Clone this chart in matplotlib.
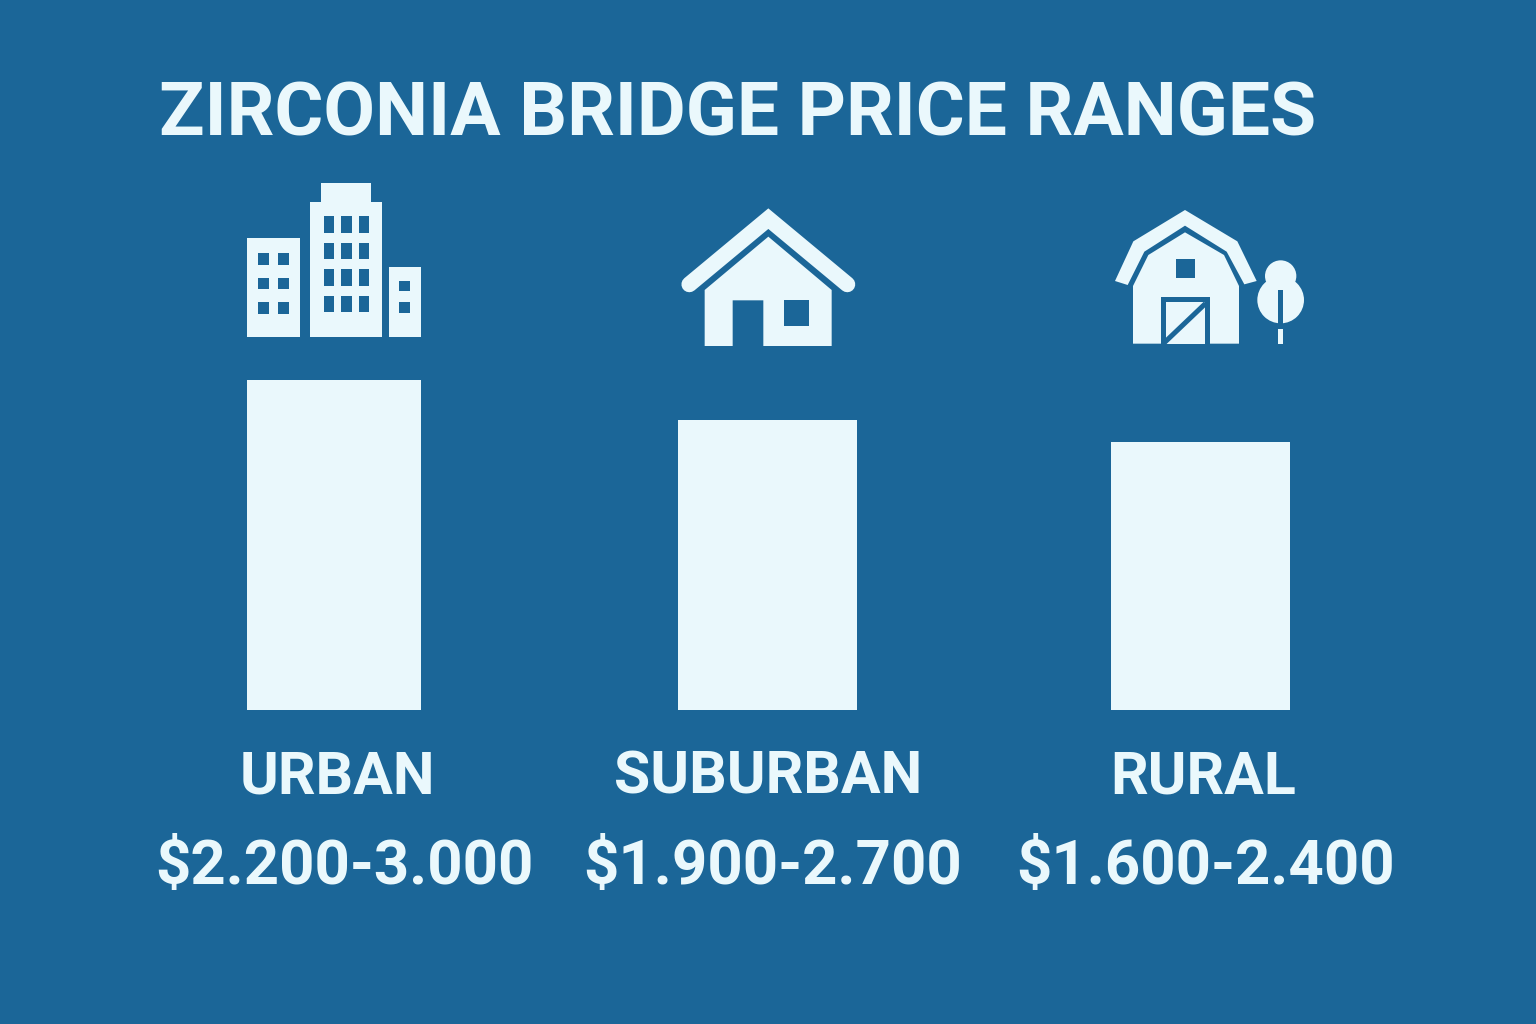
import matplotlib
matplotlib.use("Agg")
import matplotlib.pyplot as plt
from matplotlib.patches import Polygon, Rectangle, Circle
from matplotlib.lines import Line2D

categories = ["URBAN", "SUBURBAN", "RURAL"]
price_ranges = ["$2.200-3.000", "$1.900-2.700", "$1.600-2.400"]
bar_heights = [3000, 2636, 2436]
title = "ZIRCONIA BRIDGE PRICE RANGES"

BG = "#1B6698"
FG = "#EAF8FC"
W, H = 1536, 1024
plt.rcParams["font.family"] = ["Roboto", "Liberation Sans", "DejaVu Sans"]

fig = plt.figure(figsize=(W / 100, H / 100), dpi=100, facecolor=BG)

# Bars: value axis spans the pixel rows 380..710
bar_ax = fig.add_axes([0, (H - 710) / H, 1, 330 / H], facecolor="none")
bar_left = [247, 678, 1111]
bar_width = [174, 179, 179]
bar_ax.bar(bar_left, bar_heights, width=bar_width, align="edge", color=FG, linewidth=0)
bar_ax.set_xlim(0, W)
bar_ax.set_ylim(0, 3000)
bar_ax.axis("off")

# Overlay in pixel coordinates for text and icons
ax = fig.add_axes([0, 0, 1, 1], facecolor="none")
ax.set_xlim(0, W)
ax.set_ylim(H, 0)
ax.axis("off")


def rect(x0, y0, x1, y1, color):
    ax.add_patch(Rectangle((x0, y0), x1 - x0, y1 - y0, color=color, lw=0))


def poly(points, color, ox, oy):
    ax.add_patch(Polygon([(ox + x / 3, oy + y / 3) for x, y in points], closed=True, color=color, lw=0))


def zrect(x0, y0, x1, y1, color, ox, oy):
    rect(ox + x0 / 3, oy + y0 / 3, ox + x1 / 3, oy + y1 / 3, color)


# City icon
ox, oy = 230, 170
zrect(50, 205, 210, 502, FG, ox, oy)
zrect(240, 95, 455, 502, FG, ox, oy)
zrect(273, 38, 423, 100, FG, ox, oy)
zrect(478, 290, 572, 500, FG, ox, oy)
for y0, y1 in [(250, 285), (324, 358), (397, 432)]:
    for x0, x1 in [(85, 116), (145, 177)]:
        zrect(x0, y0, x1, y1, BG, ox, oy)
for y0, y1 in [(138, 188), (218, 268), (298, 347), (377, 426)]:
    for x0, x1 in [(282, 312), (334, 365), (388, 418)]:
        zrect(x0, y0, x1, y1, BG, ox, oy)
for y0, y1 in [(332, 363), (397, 428)]:
    zrect(508, y0, 540, y1, BG, ox, oy)

# House icon
ox, oy = 670, 195
ax.add_line(Line2D([ox + 58 / 3, ox + 295 / 3, ox + 532 / 3],
                   [oy + 268 / 3, oy + 71 / 3, oy + 268 / 3],
                   color=FG, lw=11.4, solid_capstyle="round", solid_joinstyle="miter"))
poly([(295, 125), (485, 285), (485, 453), (280, 453), (280, 316), (188, 316),
      (188, 453), (104, 453), (104, 285)], FG, ox, oy)
zrect(341, 316, 417, 394, BG, ox, oy)

# Barn icon
ox, oy = 1105, 200
poly([(240, 30), (397, 124), (455, 243), (418, 253), (365, 155), (240, 77),
      (118, 155), (68, 255), (30, 243), (85, 124)], FG, ox, oy)
poly([(240, 97), (357, 165), (402, 258), (402, 431), (84, 431), (84, 258), (130, 165)], FG, ox, oy)
zrect(212, 178, 270, 235, BG, ox, oy)
zrect(168, 291, 314, 431, BG, ox, oy)
zrect(182, 306, 300, 431, FG, ox, oy)
ax.add_line(Line2D([ox + 178 / 3, ox + 302 / 3], [oy + 428 / 3, oy + 310 / 3],
                   color=BG, lw=3.6, solid_capstyle="butt"))
ax.add_patch(Circle((ox + 527 / 3, oy + 228 / 3), 47 / 3, color=FG, lw=0))
ax.add_patch(Circle((ox + 527 / 3, oy + 300 / 3), 70 / 3, color=FG, lw=0))
zrect(520, 270, 535, 372, BG, ox, oy)
zrect(518, 387, 535, 431, FG, ox, oy)

# Text
ax.text(159, 135, title, color=FG, fontsize=54, fontweight="bold", ha="left", va="baseline")
label_x = [337, 768, 1203]
price_x = [344, 773, 1206]
for cx, px, cat, price in zip(label_x, price_x, categories, price_ranges):
    ax.text(cx, 794, cat, color=FG, fontsize=42.5, fontweight="bold", ha="center", va="baseline")
    ax.text(px, 884, price, color=FG, fontsize=44.5, fontweight="bold", ha="center", va="baseline")

fig.savefig("out.png", dpi=100, facecolor=BG)
